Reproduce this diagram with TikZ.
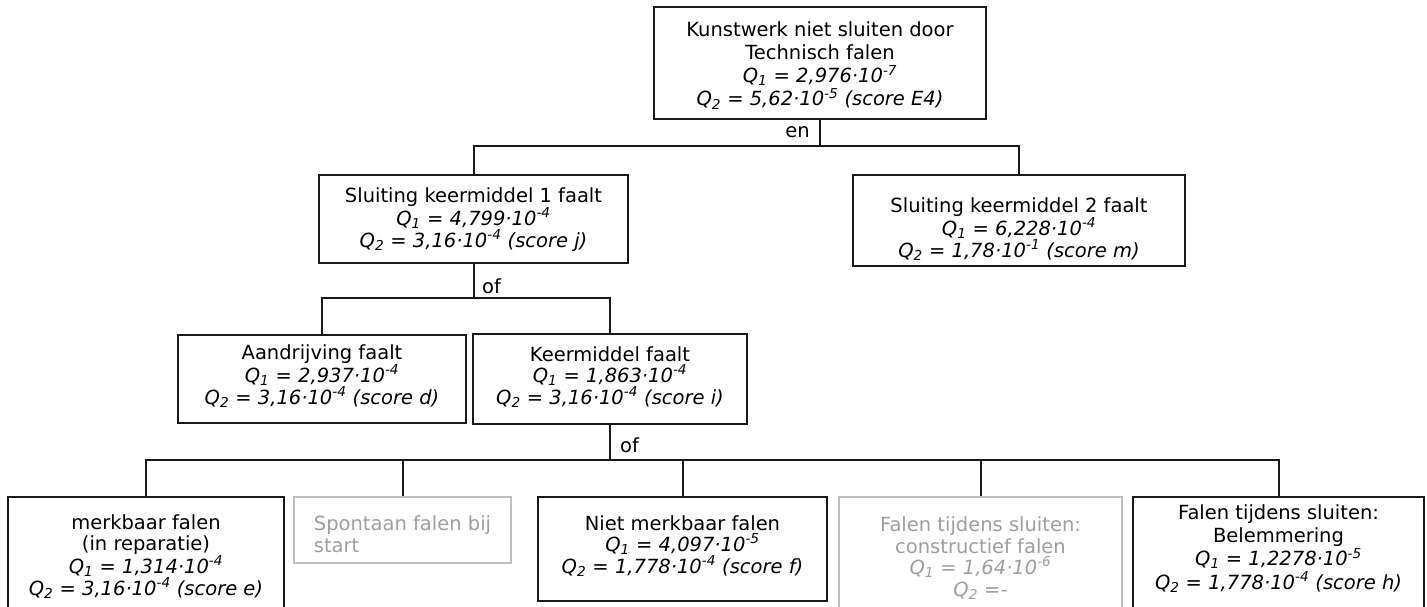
\documentclass[tikz,border=0pt]{standalone}
\usepackage{fontspec}
\setmainfont{DejaVu Sans}
\begin{document}
\begin{tikzpicture}[x=1pt,y=-1pt,
  txt/.style={font=\fontsize{19.5}{21.5}\selectfont},
  box/.style={txt, draw=black!90, line width=2pt, inner xsep=4pt, inner ysep=0pt,
    align=center, anchor=north west},
  faded/.style={draw=black!25, text=black!38},
  conn/.style={line width=2pt, black!90},
  gate/.style={txt, inner sep=0pt}
]
\clip (0,0) rectangle (1427,607);

% top event (text height runs to the last baseline)
\node[box, minimum width=332pt, text height=99pt, text depth=13pt,
  font=\fontsize{19.5}{23.3}\selectfont] (top) at (653,6)
  {Kunstwerk niet sluiten door\\Technisch falen\\
   \textit{Q\textsubscript{1} = 2,976·10\textsuperscript{-7}}\\
   \textit{Q\textsubscript{2} = 5,62·10\textsuperscript{-5} (score E4)}};

% second level
\node[box, minimum width=309pt, text height=72pt, text depth=16pt] (s1) at (318,174)
  {Sluiting keermiddel 1 faalt\\
   \textit{Q\textsubscript{1} = 4,799·10\textsuperscript{-4}}\\
   \textit{Q\textsubscript{2} = 3,16·10\textsuperscript{-4} (score j)}};
\node[box, minimum width=332pt, text height=82pt, text depth=9pt] (s2) at (852,174)
  {Sluiting keermiddel 2 faalt\\
   \textit{Q\textsubscript{1} = 6,228·10\textsuperscript{-4}}\\
   \textit{Q\textsubscript{2} = 1,78·10\textsuperscript{-1} (score m)}};

% third level
\node[box, minimum width=288pt, text height=69pt, text depth=19pt,
  font=\fontsize{19.5}{20.5}\selectfont] (aandr) at (177,334)
  {Aandrijving faalt\\
   \textit{Q\textsubscript{1} = 2,937·10\textsuperscript{-4}}\\
   \textit{Q\textsubscript{2} = 3,16·10\textsuperscript{-4} (score d)}};
\node[box, minimum width=274pt, text height=70pt, text depth=20pt,
  font=\fontsize{19.5}{20.5}\selectfont] (keer) at (472,333)
  {Keermiddel faalt\\
   \textit{Q\textsubscript{1} = 1,863·10\textsuperscript{-4}}\\
   \textit{Q\textsubscript{2} = 3,16·10\textsuperscript{-4} (score i)}};

% basic events
\node[box, minimum width=276pt, text height=98pt, text depth=27pt] (merk) at (7,496)
  {merkbaar falen\\(in reparatie)\\
   \textit{Q\textsubscript{1} = 1,314·10\textsuperscript{-4}}\\
   \textit{Q\textsubscript{2} = 3,16·10\textsuperscript{-4} (score e)}};
\node[box, faded, align=left, minimum width=217pt, text height=55pt, text depth=11pt] (spont) at (293,496)
  {Spontaan falen bij\\start};
\node[box, minimum width=289pt, text height=76pt, text depth=28pt] (niet) at (537,496)
  {Niet merkbaar falen\\
   \textit{Q\textsubscript{1} = 4,097·10\textsuperscript{-5}}\\
   \textit{Q\textsubscript{2} = 1,778·10\textsuperscript{-4} (score f)}};
\node[box, faded, minimum width=283pt, text height=99pt, text depth=26pt] (constr) at (838,496)
  {Falen tijdens sluiten:\\constructief falen\\
   \textit{Q\textsubscript{1} = 1,64·10\textsuperscript{-6}}\\
   \textit{Q\textsubscript{2} =-}};
\node[box, minimum width=291pt, text height=92pt, text depth=30pt,
  font=\fontsize{19.5}{23.3}\selectfont] (belem) at (1132,496)
  {Falen tijdens sluiten:\\Belemmering\\
   \textit{Q\textsubscript{1} = 1,2278·10\textsuperscript{-5}}\\
   \textit{Q\textsubscript{2} = 1,778·10\textsuperscript{-4} (score h)}};

% bus levels
\coordinate (bus1) at (0,146);
\coordinate (bus2) at (0,298);
\coordinate (bus3) at (0,460);

% gates
\node[gate, anchor=base east] (en) at (810,138) {en};
\node[gate, anchor=base west] (of1) at (482,293) {of};
\node[gate, anchor=base west] (of2) at (620,452) {of};

% connectors
\draw[conn] (top.south) -- (top.south |- bus1);
\draw[conn] (s1.north) -- (s1.north |- bus1) -- (s2.north |- bus1) -- (s2.north);

\draw[conn] (s1.south) -- (s1.south |- bus2);
\draw[conn] (aandr.north) -- (aandr.north |- bus2) -- (keer.north |- bus2) -- (keer.north);

\draw[conn] (keer.south) -- (keer.south |- bus3);
\draw[conn] (merk.north) -- (merk.north |- bus3) -- (belem.north |- bus3) -- (belem.north);
\draw[conn] (spont.north) -- (spont.north |- bus3);
\draw[conn] (niet.north) -- (niet.north |- bus3);
\draw[conn] (constr.north) -- (constr.north |- bus3);
\end{tikzpicture}
\end{document}
